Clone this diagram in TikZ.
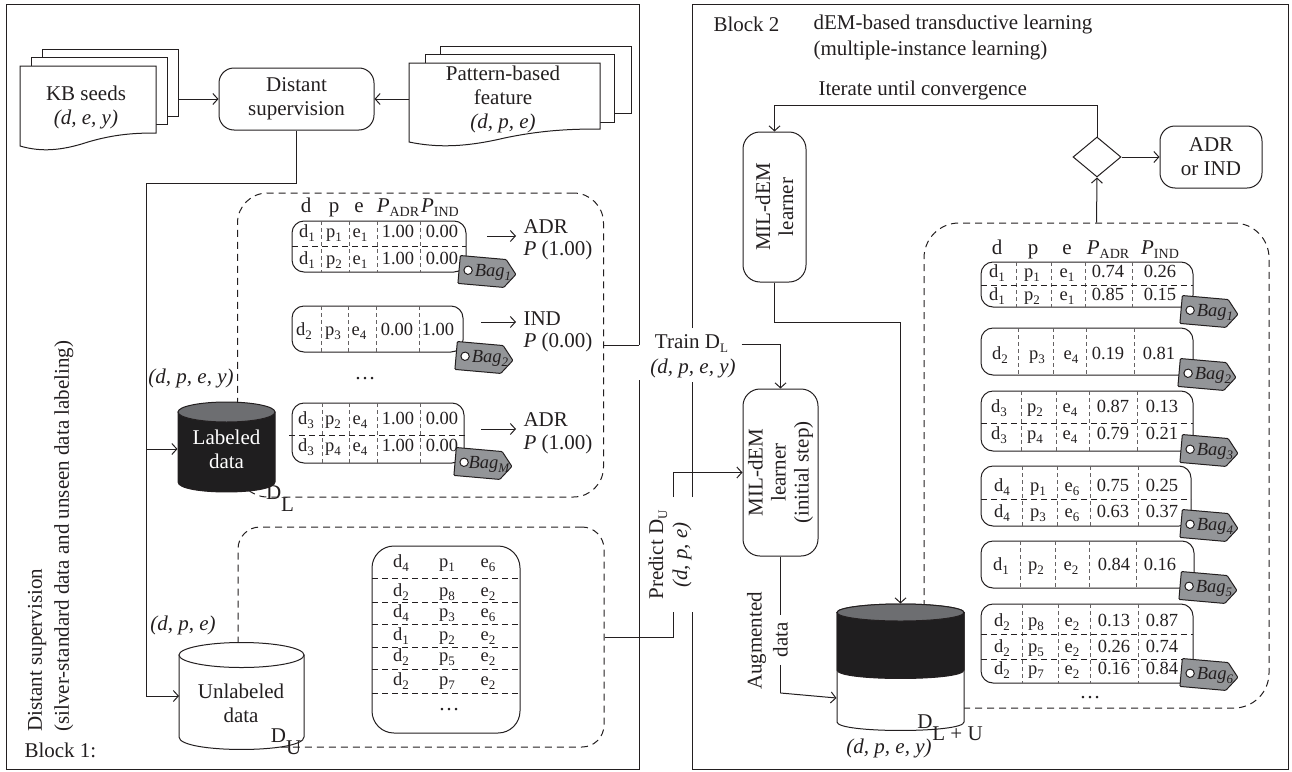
\documentclass[tikz,border=0pt]{standalone}
\usepackage{fontspec}
\setmainfont{Liberation Serif}
\usetikzlibrary{arrows.meta,shapes.geometric,calc}
\definecolor{ink}{HTML}{231F20}
\definecolor{baggray}{HTML}{939598}
\definecolor{drumgray}{HTML}{6D6E71}
\definecolor{drumblack}{HTML}{1F1E1F}
\tikzset{
  mainbox/.style={draw, rounded corners=15pt, align=center, inner sep=0pt},
  dashbox/.style={draw, dash pattern=on 7pt off 5pt, inner sep=0pt},
  textnode/.style={inner sep=0pt, align=center},
  result/.style={anchor=west, inner ysep=0pt, inner xsep=7pt, text height=13pt, text depth=4pt},
  cell/.style={inner sep=0pt, text height=12pt, text depth=4pt, font=\fontsize{18.5}{20}\selectfont},
  headcell/.style={inner sep=0pt, text height=13pt, text depth=5pt},
  rowdash/.style={dash pattern=on 6pt off 4pt},
  celldash/.style={dash pattern=on 4pt off 3pt, line width=0.5pt, draw=ink!70},
  doc/.style={draw, fill=white, inner sep=0pt}
}
\newcommand{\lowsub}[1]{\raisebox{-4pt}{\fontsize{13}{13}\selectfont #1}}
\newcommand{\padr}{\textit{P}\raisebox{-4pt}{\fontsize{14}{14}\selectfont ADR}}
\newcommand{\pind}{\textit{P}\raisebox{-4pt}{\fontsize{14}{14}\selectfont IND}}
\newcommand{\setcols}[5]{\def\cola{#1}\def\colb{#2}\def\colc{#3}\def\cold{#4}\def\cole{#5}}
\newcommand{\rowtext}[7]{
  \node[cell] (#1d) at (\cola,#2) {d\lowsub{#3}};
  \node[cell] (#1p) at (\colb,#2) {p\lowsub{#4}};
  \node[cell] (#1e) at (\colc,#2) {e\lowsub{#5}};
  \node[cell] (#1a) at (\cold,#2) {#6};
  \node[cell] (#1b) at (\cole,#2) {#7};
}
\newcommand{\rowframe}[5]{
  \draw[rounded corners=12pt] (#1,#3) rectangle (#2,#4);
  \foreach \x in {#5} \draw[celldash] (\x,#3) -- (\x,#4);
}
\newcommand{\bagtag}[4]{
  \begin{scope}[shift={(#2,#3)}, rotate=-5]
    \draw[fill=baggray, rounded corners=1pt] (-29,-14) -- (17,-14) -- (28,0) -- (17,14) -- (-29,14) -- cycle;
    \draw[fill=white] (-20,0) circle (4.2);
    \node[inner sep=0pt, font=\fontsize{18.5}{20}\selectfont\itshape] (#1) at (5,0) {Bag\lowsub{#4}};
  \end{scope}
}
\newcommand{\drum}[7]{
  \draw[fill=#6] (#1,#3) -- (#1,#4) .. controls (#1,#4+1.33*#5) and (#2,#4+1.33*#5) .. (#2,#4) -- (#2,#3) -- cycle;
  \draw[fill=#7] ({(#1+#2)/2},#3) ellipse [x radius={(#2-#1)/2}, y radius=#5];
}
\newcommand{\docpage}[4]{
  \draw[fill=white] (#1,#3) -- (#1,#4+13) .. controls (#1+0.15*#2-0.15*#1,#4+19) and (#1+0.3*#2-0.3*#1,#4+18) .. (#1+0.5*#2-0.5*#1,#4+9) .. controls (#1+0.7*#2-0.7*#1,#4+1) and (#1+0.85*#2-0.85*#1,#4) .. (#2,#4) -- (#2,#3) -- cycle;
}
\begin{document}
\begin{tikzpicture}[x=1pt, y=-1pt, color=ink, line width=1pt,
    >={Straight Barb[length=5pt,width=11pt]},
    every node/.style={font=\fontsize{21}{24}\selectfont}]
\useasboundingbox (0,0) rectangle (1292,771);

% block frames
\draw (639,345) -- (639,4) -- (6,4) -- (6,769) -- (639,769) -- (639,380);
\draw (692,328) -- (692,4) -- (1288,4) -- (1288,769) -- (692,769) -- (692,612);
\draw (692,497) -- (692,382);

% block 1
\node[doc, minimum width=136, minimum height=67] (kbback) at (110,82.5) {};
\node[doc, minimum width=136, minimum height=67] (kbmiddle) at (99,90.5) {};
\docpage{20}{156}{66}{133}
\node[textnode] (kb) at (86,107) {KB seeds\\\textit{(d, e, y)}};
\node[doc, minimum width=191, minimum height=67] (patback) at (535.5,79.5) {};
\node[doc, minimum width=189, minimum height=68] (patmiddle) at (519.5,88) {};
\docpage{409}{600}{63}{129}
\node[textnode] (pattern) at (503,99) {Pattern-based\\feature\\\textit{(d, p, e)}};
\coordinate (patleft) at (409,99);
\node[mainbox, minimum width=155, minimum height=62] (distant) at (296.5,99) {Distant\\supervision};
\draw[->] (kbback.east |- distant.west) -- (distant.west);
\draw[->] (patleft) -- (distant.east);

\node[dashbox, rounded corners=30pt, minimum width=366, minimum height=304] (labeledbox) at (420.5,345) {};
\node[dashbox, rounded corners=22pt, minimum width=366, minimum height=220] (unlabeledbox) at (421,637) {};

\drum{178}{275}{412}{482}{10}{drumblack}{drumgray}
\node[textnode, text=white, minimum width=97, minimum height=91] (labeled) at (226.5,449) {Labeled\\data};
\drum{179}{304}{655}{737}{12.5}{white}{white}
\node[textnode, minimum width=125] (unlabeled) at (241,703) {Unlabeled\\data};
\coordinate (unlabeledin) at (179,696);
\coordinate (splitcorner) at (146,183);
\draw[->] (distant.south) |- (splitcorner) |- (labeled.west);
\draw[->] (splitcorner) |- (unlabeledin);

\node[textnode] (dlabel) at (280,499) {D\raisebox{-12pt}{L}};
\node[textnode] (dulabel) at (286,742) {D\raisebox{-12pt}{U}};
\node[textnode] (labeledtuple) at (191,378) {\textit{(d, p, e, y)}};
\node[textnode] (unlabeledtuple) at (183,625) {\textit{(d, p, e)}};

\node[textnode, rotate=90, anchor=south west, align=left, font=\fontsize{21}{27}\selectfont] (blockonetitle) at (74,732) {Distant supervision\\(silver-standard data and unseen data labeling)};
\node[textnode, anchor=west] (blockone) at (24,750) {Block 1:};

\node[headcell] (hd) at (306,208) {d};
\node[headcell] (hp) at (334,208) {p};
\node[headcell] (he) at (359,208) {e};
\node[headcell] (hadr) at (398,208) {\padr};
\node[headcell] (hind) at (440,208) {\pind};

\rowframe{292}{466}{221}{272}{321,349,377,420}
\setcols{307}{334}{360}{398}{442}
\rowtext{la}{233}{1}{1}{1}{1.00}{0.00}
\rowtext{lb}{260}{1}{2}{1}{1.00}{0.00}
\draw[rowdash] (292,246) -- (466,246);
\bagtag{bagone}{488}{272}{1}

\rowframe{292}{463}{306}{352}{321,348,376,419}
\setcols{304}{333}{359}{397}{438}
\rowtext{lc}{331}{2}{3}{4}{0.00}{1.00}
\bagtag{bagtwo}{485}{358}{2}
\node[textnode] (ldots) at (365,379) {\dots};

\rowframe{292}{464}{403}{463}{322,349,377,420}
\setcols{306}{333}{360}{398}{442}
\rowtext{ld}{420}{3}{2}{4}{1.00}{0.00}
\rowtext{le}{447}{3}{4}{4}{1.00}{0.00}
\draw[rowdash] (289,435) -- (466,435);
\bagtag{bagm}{484}{464}{\textit{M}}

\coordinate (rowone) at (487,236);
\node[result] (adrone) at (516,229) {ADR};
\node[result] (pone) at (516,251) {\textit{P} (1.00)};
\draw[->] (rowone) -- (rowone -| adrone.west);
\coordinate (rowtwo) at (481,322);
\node[result] (indtwo) at (516,321) {IND};
\node[result] (ptwo) at (516,343) {\textit{P} (0.00)};
\draw[->] (rowtwo) -- (rowtwo -| indtwo.west);
\coordinate (rowthree) at (481,429);
\node[result] (adrthree) at (516,422) {ADR};
\node[result] (pthree) at (516,445) {\textit{P} (1.00)};
\draw[->] (rowthree) -- (rowthree -| adrthree.west);

\draw[rounded corners=22pt] (372,546) rectangle (520,733);
\foreach \ly in {578,602,624,647,669,693} \draw[rowdash] (372,\ly) -- (520,\ly);
\foreach \ny/\nd/\np/\ne in {563/4/1/6,592/2/8/2,613/4/3/6,636/1/2/2,657/2/5/2,681/2/7/2} {
  \node[cell] (ud\ny) at (401,\ny) {d\lowsub{\nd}};
  \node[cell] (up\ny) at (447,\ny) {p\lowsub{\np}};
  \node[cell] (ue\ny) at (488,\ny) {e\lowsub{\ne}};
}
\node[textnode] (udots) at (449,710) {\dots};

% middle labels
\coordinate (trainstart) at (639,345);
\draw (labeledbox.east) -- (trainstart);
\node[textnode, inner xsep=13pt, text height=13pt, text depth=5pt] (trainlabel) at (691.5,344) {Train D\lowsub{L}};
\node[textnode] (traintuple) at (693,368) {\textit{(d, p, e, y)}};
\node[textnode, rotate=90] (predictlabel) at (670,555) {Predict D\lowsub{U}\\\textit{(d, p, e)}};

% block 2
\node[textnode, anchor=west] (blocktwo) at (713,24) {Block 2};
\node[textnode, anchor=west, align=left, font=\fontsize{21}{26}\selectfont] (blocktwotitle) at (813,37) {dEM-based transductive learning\\(multiple-instance learning)};
\node[textnode, anchor=west] (iterate) at (818,90) {Iterate until convergence};

\node[mainbox, rounded corners=17pt, rotate=90, minimum width=150, minimum height=63, font=\fontsize{21}{23}\selectfont] (learner) at (774.5,207) {MIL-dEM\\learner};
\node[mainbox, rounded corners=17pt, rotate=90, minimum width=167, minimum height=75, font=\fontsize{21}{23}\selectfont] (initlearner) at (780.5,472.5) {MIL-dEM\\learner\\(initial step)};
\node[draw, diamond, inner sep=0pt, aspect=1.2, minimum width=48, minimum height=40] (decision) at (1097,157) {};
\node[mainbox, minimum width=102, minimum height=62] (adrorind) at (1211,157) {ADR\\or IND};

\node[dashbox, rounded corners=35pt, minimum width=345, minimum height=485] (mergedbox) at (1096.5,465.5) {};

\drum{837}{964}{612.5}{722}{8.5}{white}{white}
\drum{837}{964}{612.5}{670}{8.5}{drumblack}{drumgray}
\node[inner sep=0pt, minimum width=127, minimum height=126] (merged) at (900.5,667) {};
\node[textnode] (dmerged) at (950,728) {D\raisebox{-12pt}{L + U}};
\node[textnode] (mergedtuple) at (889,748) {\textit{(d, p, e, y)}};

\node[textnode, rotate=90] (augword) at (756.5,641) {Augmented};
\node[textnode, rotate=90, inner xsep=7pt] (augdata) at (780.5,640) {data};
\coordinate (augcorner) at (780.5,693);
\coordinate (iteratecorner) at (1097,105);
\coordinate (learnerbend) at (900.5,322);
\coordinate (predictend) at (673,612);
\coordinate (predictresume) at (673,497);

\draw[->] (mergedbox.north) -- (decision.south);
\draw[->] (decision.east) -- (adrorind.west);
\draw[->] (decision.north) -- (iteratecorner) -| (learner.east);
\draw[->] (learner.west) |- (learnerbend) -- (merged.north);
\draw[->] (trainlabel.east) -| (initlearner.east);
\draw (unlabeledbox.east) -| (predictend);
\draw[->] (predictresume) |- (initlearner.north);
\draw (initlearner.west) -- (augdata.east);
\draw (augdata.west) -- (augcorner);
\draw[->] (augcorner) -- (merged.west |- 0,698);

\node[headcell] (rhd) at (997,250) {d};
\node[headcell] (rhp) at (1033,250) {p};
\node[headcell] (rhe) at (1067,250) {e};
\node[headcell] (rhadr) at (1108,250) {\padr};
\node[headcell] (rhind) at (1160,250) {\pind};

\rowframe{981}{1193}{262}{307}{1016,1051,1085,1132}
\setcols{997}{1032}{1067}{1108}{1160}
\rowtext{ra}{273}{1}{1}{1}{0.74}{0.26}
\rowtext{rb}{296}{1}{2}{1}{0.85}{0.15}
\draw[rowdash] (981,285) -- (1193,285);
\bagtag{bagra}{1210}{312}{1}

\rowframe{981}{1193}{328}{375}{1018,1053,1086,1134}
\setcols{1000}{1037}{1071}{1108}{1159}
\rowtext{rc}{355}{2}{3}{4}{0.19}{0.81}
\bagtag{bagrb}{1208}{375}{2}

\rowframe{981}{1193}{391}{451}{1021,1056,1089,1137}
\setcols{999}{1035}{1070}{1113}{1162}
\rowtext{rd}{408}{3}{2}{4}{0.87}{0.13}
\rowtext{re}{435}{3}{4}{4}{0.79}{0.21}
\draw[rowdash] (981,423) -- (1193,423);
\bagtag{bagrc}{1210}{451}{3}

\rowframe{981}{1191}{466}{526}{1022,1057,1090,1138}
\setcols{1002}{1038}{1072}{1113}{1162}
\rowtext{rf}{487}{4}{1}{6}{0.75}{0.25}
\rowtext{rg}{513}{4}{3}{6}{0.63}{0.37}
\draw[rowdash] (981,499) -- (1191,499);
\bagtag{bagrd}{1210}{526}{4}

\rowframe{981}{1194}{541}{588}{1020,1055,1089,1136}
\setcols{1001}{1036}{1071}{1114}{1160}
\rowtext{rh}{566}{1}{2}{2}{0.84}{0.16}
\bagtag{bagre}{1209}{588}{5}

\rowframe{981}{1193}{604}{683}{1022,1058,1090,1138}
\setcols{1002}{1036}{1072}{1114}{1162}
\rowtext{ri}{622}{2}{8}{2}{0.13}{0.87}
\rowtext{rj}{648}{2}{5}{2}{0.26}{0.74}
\rowtext{rk}{670}{2}{7}{2}{0.16}{0.84}
\draw[rowdash] (981,634) -- (1193,634);
\draw[rowdash] (981,659) -- (1193,659);
\bagtag{bagrf}{1210}{675}{6}
\node[textnode] (rdots) at (1090,698) {\dots};
\end{tikzpicture}
\end{document}
